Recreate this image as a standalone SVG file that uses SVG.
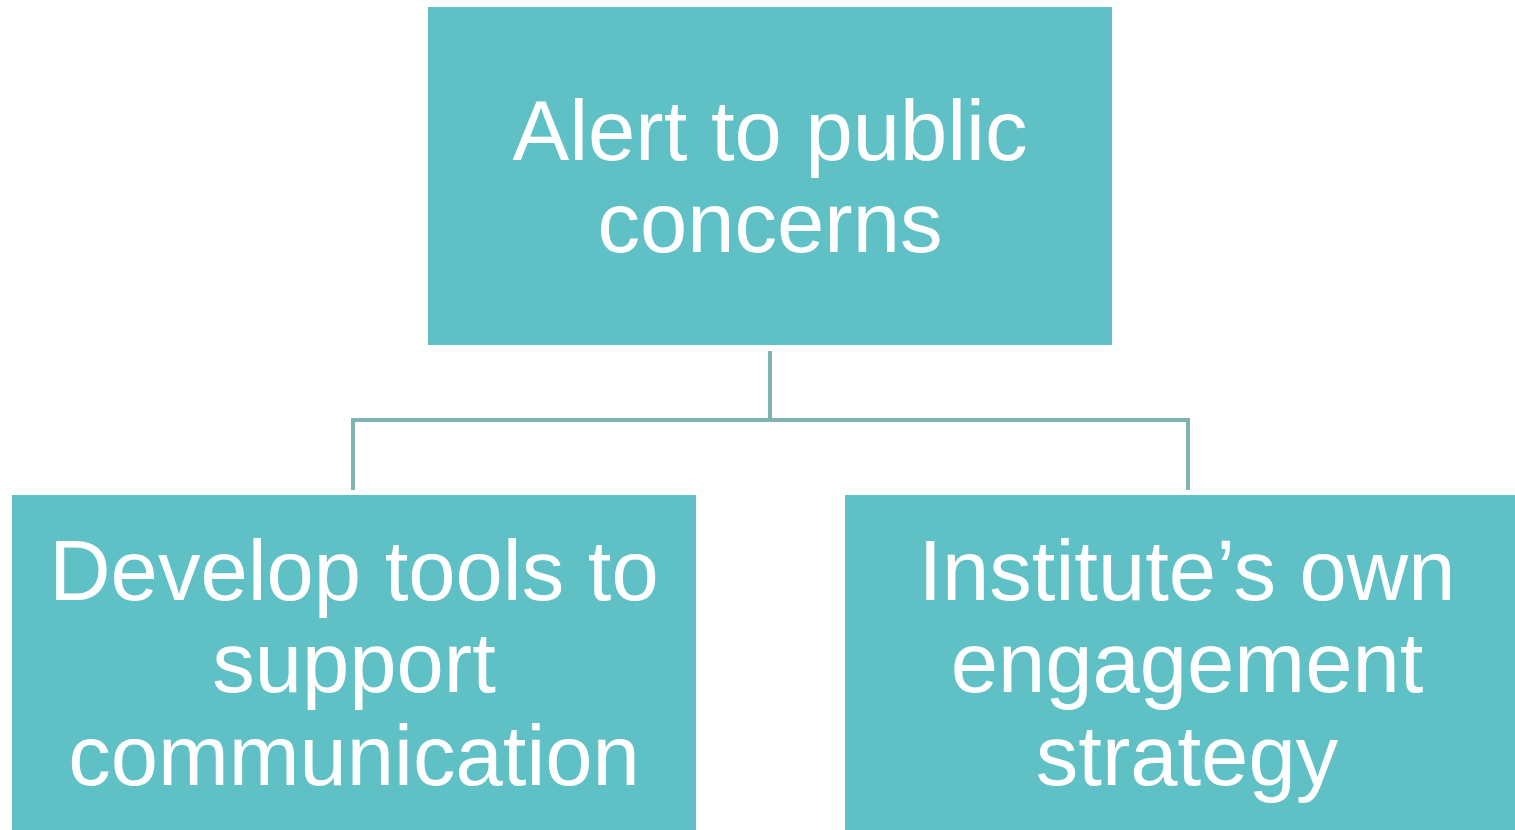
<svg xmlns="http://www.w3.org/2000/svg" width="1515" height="830" viewBox="0 0 1515 830">
<style>
.box{fill:#5FC1C5;}
.lbl{fill:#FFFFFF;font-family:"Liberation Sans",Arial,sans-serif;font-size:85px;text-anchor:middle;}
.conn{stroke:#80B3B3;stroke-width:4;fill:none;}
</style>
<rect width="1515" height="830" fill="#FFFFFF"/>
<g id="connectors">
<path class="conn" d="M770,351 V420"/>
<path class="conn" d="M353,490 V420 H1188 V490"/>
</g>
<g id="node-top">
<rect class="box" x="428" y="7" width="684" height="338"/>
<text class="lbl" x="770" y="160">Alert to public</text>
<text class="lbl" x="770" y="252">concerns</text>
</g>
<g id="node-left">
<rect class="box" x="12" y="495" width="684" height="335"/>
<text class="lbl" x="354" y="600">Develop tools to</text>
<text class="lbl" x="354" y="692">support</text>
<text class="lbl" x="354" y="785">communication</text>
</g>
<g id="node-right">
<rect class="box" x="845" y="495" width="670" height="335"/>
<text class="lbl" x="1187" y="600">Institute’s own</text>
<text class="lbl" x="1187" y="692">engagement</text>
<text class="lbl" x="1187" y="785">strategy</text>
</g>
</svg>
